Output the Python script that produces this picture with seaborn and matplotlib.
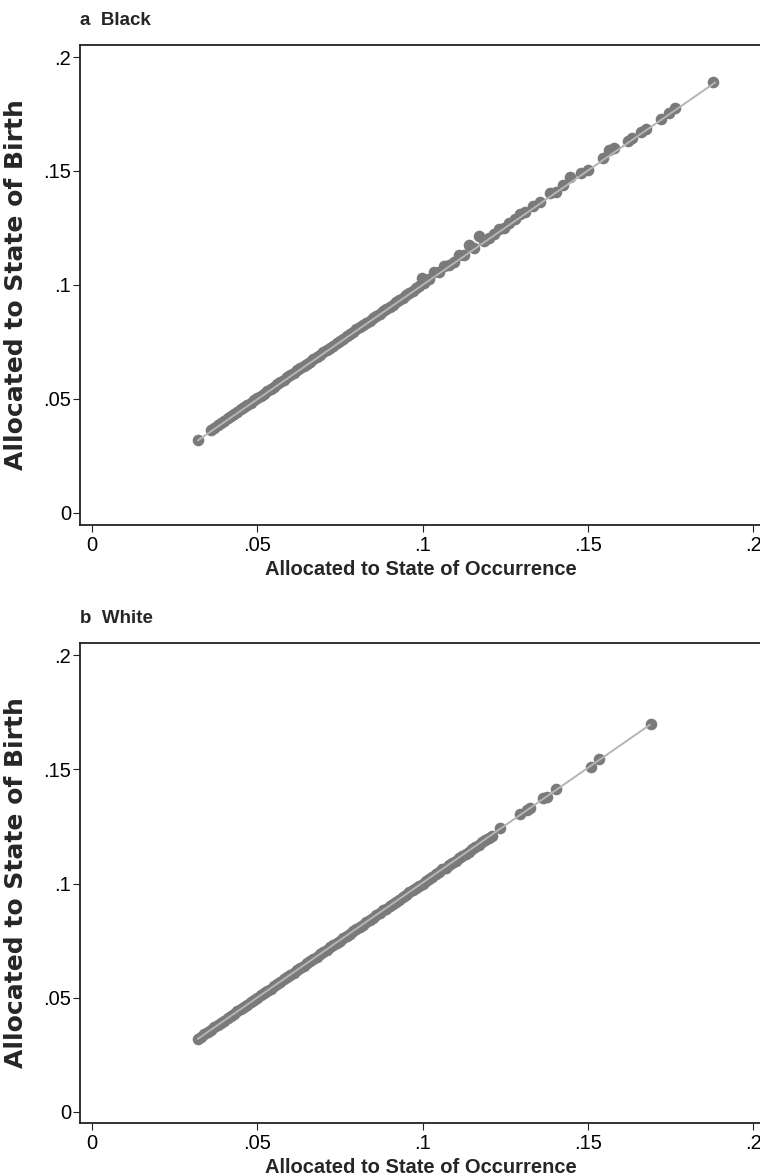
import matplotlib
matplotlib.use("Agg")
import matplotlib.pyplot as plt
import seaborn as sns
import pandas as pd

# ---------------- data ----------------
black_occ = [0.032,
             0.036, 0.037, 0.038, 0.039, 0.040, 0.041, 0.042, 0.043, 0.044, 0.045,
             0.046, 0.047, 0.048, 0.049, 0.050, 0.051, 0.052, 0.053, 0.054, 0.055,
             0.056, 0.057, 0.058, 0.059, 0.060, 0.061, 0.062, 0.063, 0.064, 0.065,
             0.066, 0.067, 0.068, 0.069, 0.070, 0.071, 0.072, 0.073, 0.074, 0.075,
             0.076, 0.077, 0.078, 0.079, 0.080, 0.081, 0.082, 0.083, 0.084, 0.085,
             0.086, 0.087, 0.088, 0.089, 0.090, 0.091, 0.092, 0.093, 0.094, 0.095,
             0.096, 0.097, 0.098, 0.099,
             0.0998, 0.1005, 0.102, 0.1035, 0.105, 0.1065, 0.108, 0.1095, 0.111, 0.1125,
             0.114, 0.1155, 0.117, 0.1185, 0.120, 0.1215, 0.123, 0.1245, 0.126, 0.128,
             0.1295, 0.131, 0.1335, 0.1355, 0.1385, 0.1405, 0.1425, 0.1445, 0.148, 0.150,
             0.1545, 0.1565, 0.158, 0.162, 0.1635, 0.166, 0.1675, 0.172, 0.1745, 0.1765,
             0.188]
black_birth = [0.032,
               0.0364, 0.0374, 0.0385, 0.0394, 0.0404, 0.0415, 0.0424, 0.0434, 0.0445, 0.0454,
               0.0464, 0.0475, 0.0484, 0.0494, 0.0505, 0.0514, 0.0524, 0.0535, 0.0544, 0.0554,
               0.0565, 0.0574, 0.0584, 0.0595, 0.0604, 0.0614, 0.0625, 0.0634, 0.0644, 0.0655,
               0.0664, 0.0674, 0.0685, 0.0694, 0.0704, 0.0715, 0.0724, 0.0734, 0.0745, 0.0754,
               0.0764, 0.0775, 0.0784, 0.0794, 0.0805, 0.0814, 0.0824, 0.0835, 0.0844, 0.0854,
               0.0865, 0.0874, 0.0884, 0.0895, 0.0904, 0.0914, 0.0925, 0.0934, 0.0944, 0.0955,
               0.0964, 0.0974, 0.0985, 0.0994,
               0.1030, 0.1010, 0.1026, 0.1055, 0.1055, 0.1085, 0.1086, 0.1100, 0.1130, 0.1132,
               0.1175, 0.1162, 0.1215, 0.1192, 0.1208, 0.1225, 0.1245, 0.1252, 0.1272, 0.1290,
               0.1312, 0.1318, 0.1348, 0.1362, 0.1402, 0.1410, 0.1440, 0.1472, 0.1492, 0.1505,
               0.1558, 0.1590, 0.1600, 0.1630, 0.1645, 0.1672, 0.1685, 0.1730, 0.1755, 0.1778,
               0.1890]
black_fit_x = [0.032, 0.1885]
black_fit_y = [0.0318, 0.1888]

white_occ = [0.032, 0.033, 0.034, 0.035, 0.036, 0.037, 0.038, 0.039, 0.040, 0.041,
             0.042, 0.043, 0.044, 0.045, 0.046, 0.047, 0.048, 0.049, 0.050, 0.051,
             0.052, 0.053, 0.054, 0.055, 0.056, 0.057, 0.058, 0.059, 0.060, 0.061,
             0.062, 0.063, 0.064, 0.065, 0.066, 0.067, 0.068, 0.069, 0.070, 0.071,
             0.072, 0.073, 0.074, 0.075, 0.076, 0.077, 0.078, 0.079, 0.080, 0.081,
             0.082, 0.083, 0.084, 0.085, 0.086, 0.087, 0.088, 0.089, 0.090, 0.091,
             0.092, 0.093, 0.094, 0.095, 0.096, 0.097, 0.098, 0.099, 0.100, 0.101,
             0.102, 0.103, 0.104, 0.105, 0.106, 0.107, 0.108, 0.109, 0.110, 0.111,
             0.112, 0.113, 0.114, 0.115, 0.116, 0.117, 0.118, 0.119, 0.120, 0.121,
             0.1235, 0.1295, 0.1315, 0.1325, 0.1365, 0.1375, 0.1405, 0.1510, 0.1535, 0.1690]
white_birth = [0.032, 0.033, 0.034, 0.035, 0.036, 0.037, 0.038, 0.039, 0.040, 0.041,
               0.042, 0.043, 0.044, 0.045, 0.046, 0.047, 0.048, 0.049, 0.050, 0.051,
               0.052, 0.053, 0.054, 0.055, 0.056, 0.057, 0.058, 0.059, 0.060, 0.061,
               0.062, 0.063, 0.064, 0.065, 0.066, 0.067, 0.068, 0.069, 0.070, 0.071,
               0.0723, 0.073, 0.074, 0.075, 0.0763, 0.077, 0.078, 0.079, 0.080, 0.081,
               0.082, 0.083, 0.084, 0.085, 0.086, 0.087, 0.0883, 0.089, 0.090, 0.091,
               0.092, 0.093, 0.094, 0.095, 0.0963, 0.097, 0.098, 0.099, 0.100, 0.101,
               0.102, 0.103, 0.104, 0.105, 0.1063, 0.107, 0.108, 0.109, 0.110, 0.111,
               0.112, 0.113, 0.114, 0.115, 0.116, 0.117, 0.1183, 0.119, 0.120, 0.121,
               0.1242, 0.1305, 0.1320, 0.1330, 0.1375, 0.1380, 0.1412, 0.1512, 0.1545, 0.1698]
white_fit_x = [0.032, 0.1688]
white_fit_y = [0.0320, 0.1695]

x_ticks = [0, 0.05, 0.1, 0.15, 0.2]
x_tick_labels = ["0", ".05", ".1", ".15", ".2"]
y_ticks = [0, 0.05, 0.1, 0.15, 0.2]
y_tick_labels = ["0", ".05", ".1", ".15", ".2"]

panel_titles = ["a  Black", "b  White"]
x_label = "Allocated to State of Occurrence"
y_label = "Allocated to State of Birth"

assert len(black_occ) == len(black_birth)
assert len(white_occ) == len(white_birth)

# ---------------- style ----------------
sns.set_style("ticks")
plt.rcParams['font.family'] = ['Liberation Sans', 'DejaVu Sans']

MARK = "#7a7a7a"
LINE = "#b5b5b5"

fig = plt.figure(figsize=(7.6, 11.76), dpi=100)
axes = [fig.add_axes([0.1053, 0.5536, 0.8974, 0.4082]),
        fig.add_axes([0.1053, 0.0451, 0.8974, 0.4082])]
ylims = [(-0.00526, 0.2053), (-0.0048, 0.2053)]

datasets = [
    (black_occ, black_birth, black_fit_x, black_fit_y),
    (white_occ, white_birth, white_fit_x, white_fit_y),
]

for ax, (xo, yb, fx, fy), title, yl in zip(axes, datasets, panel_titles, ylims):
    df = pd.DataFrame({"occ": xo, "birth": yb})
    fit = pd.DataFrame({"x": fx, "y": fy})
    sns.scatterplot(data=df, x="occ", y="birth", ax=ax, s=70, color=MARK,
                    linewidth=0, edgecolor=MARK, zorder=2)
    sns.lineplot(data=fit, x="x", y="y", ax=ax, color=LINE, linewidth=1.4,
                 zorder=3, sort=False)
    ax.set_xlim(-0.00363, 0.2027)
    ax.set_ylim(*yl)
    ax.set_xticks(x_ticks)
    ax.set_xticklabels(x_tick_labels)
    ax.set_yticks(y_ticks)
    ax.set_yticklabels(y_tick_labels)
    ax.tick_params(axis="both", direction="out", length=5, width=0.8,
                   labelsize=14.5, colors="#222222", labelcolor="black")
    ax.tick_params(axis="y", pad=1.5)
    ax.tick_params(axis="x", pad=3)
    ax.set_xlabel(x_label, fontsize=14.5, fontweight="bold")
    ax.xaxis.set_label_coords(0.5, -0.073)
    ax.set_ylabel(y_label, fontsize=18, fontweight="bold",
                  family=["DejaVu Sans"])
    ax.yaxis.set_label_coords(-0.076, 0.5)
    for side in ["left", "bottom", "top", "right"]:
        ax.spines[side].set_visible(True)
        ax.spines[side].set_linewidth(1.3)
        ax.spines[side].set_color("#222222")
    ax.set_title(title, loc="left", fontsize=13.5, fontweight="bold", pad=14, x=0.0)
    ax.grid(False)

fig.savefig("out.png", dpi=100)
